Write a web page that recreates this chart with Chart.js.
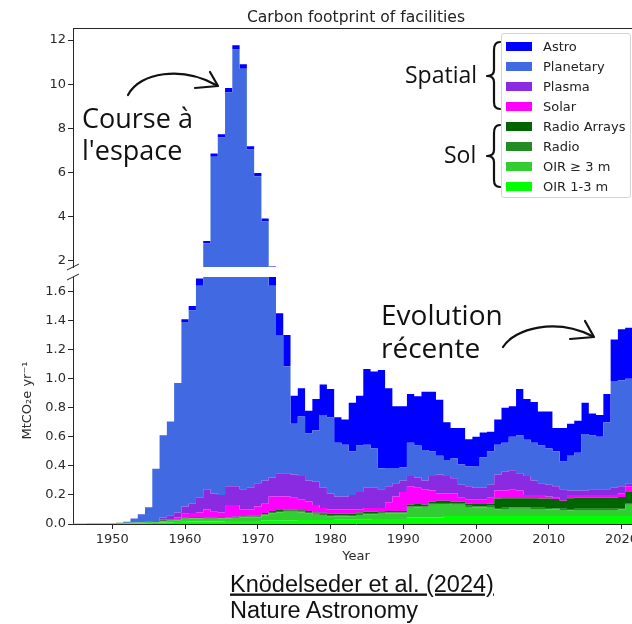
<!DOCTYPE html>
<html>
<head>
<meta charset="utf-8">
<script src="https://cdn.jsdelivr.net/npm/chart.js@4.4.1/dist/chart.umd.min.js"></script>
<style>
  html, body { margin: 0; padding: 0; background: #fff; }
  body { width: 632px; height: 624px; overflow: hidden; position: relative; }
  canvas { position: absolute; left: 0; }
  #top { top: 0; }
  #bottom { top: 272px; }
  #legend {
    position: absolute; left: 501px; top: 33px; width: 130px; height: 165px;
    box-sizing: border-box; border: 1px solid #d4d4d4; border-radius: 3px;
    background: rgba(255,255,255,0.85);
    font: 13px "DejaVu Sans", sans-serif; color: #222;
  }
  .item { position: absolute; left: 4px; height: 20px; display: flex; align-items: center; white-space: nowrap; }
  .patch { width: 26px; height: 9px; margin-right: 11px; }
  svg { position: absolute; left: 0; top: 0; }
</style>
</head>
<body>
<canvas id="top" width="660" height="272"></canvas>
<canvas id="bottom" width="660" height="300"></canvas>
<div id="legend"></div>

<svg width="632" height="624">
  <text x="356" y="21.5" text-anchor="middle" font-family="DejaVu Sans" font-size="15.6" fill="#222">Carbon footprint of facilities</text>
  <g font-family="Open Sans" fill="#111">
    <text x="82" y="128" font-size="27">Course à</text>
    <text x="82" y="160" font-size="27">l'espace</text>
    <text x="381" y="325" font-size="28">Evolution</text>
    <text x="381" y="358" font-size="28">récente</text>
    <text x="405" y="83" font-size="23">Spatial</text>
    <text x="444" y="163" font-size="23">Sol</text>
  </g>
  <g fill="none" stroke="#111" stroke-width="2.2" stroke-linecap="round" stroke-linejoin="round">
    <!-- fleche course a l'espace -->
    <path d="M128 95 C140 72, 182 66, 216 85"/>
    <path d="M210 72 L218 86 L195 88"/>
    <!-- fleche evolution recente -->
    <path d="M503 347 C515 328, 556 318, 592 336"/>
    <path d="M585 321 L594 337 L570 339"/>
    <!-- accolades -->
    <path d="M500 42 Q494 42 494 50 L494 70 Q494 76 487 76 Q494 76 494 82 L494 102 Q494 109 500 109"/>
    <path d="M500 125 Q494 125 494 133 L494 150 Q494 156 487 156 Q494 156 494 162 L494 180 Q494 187 500 187"/>
  </g>
  <g font-family="Liberation Sans" font-size="23.5" fill="#111">
    <text x="230" y="591.5" text-decoration="underline">Knödelseder et al. (2024)</text>
    <text x="230" y="618">Nature Astronomy</text>
  </g>
</svg>

<script>
// annees (une marche par annee)
var years = [
  1945, 1946, 1947, 1948, 1949, 1950, 1951, 1952, 1953, 1954,
  1955, 1956, 1957, 1958, 1959, 1960, 1961, 1962, 1963, 1964,
  1965, 1966, 1967, 1968, 1969, 1970, 1971, 1972, 1973, 1974,
  1975, 1976, 1977, 1978, 1979, 1980, 1981, 1982, 1983, 1984,
  1985, 1986, 1987, 1988, 1989, 1990, 1991, 1992, 1993, 1994,
  1995, 1996, 1997, 1998, 1999, 2000, 2001, 2002, 2003, 2004,
  2005, 2006, 2007, 2008, 2009, 2010, 2011, 2012, 2013, 2014,
  2015, 2016, 2017, 2018, 2019, 2020, 2021
];

// MtCO2e/an par categorie (empilees, de bas en haut)
var oir13 = [
  .002, .002, .002, .002, .002, .002, .002, .003, .004, .005,
  .006, .008, .010, .012, .014, .016, .018, .018, .018, .018,
  .018, .020, .020, .020, .020, .020, .025, .025, .025, .025,
  .025, .028, .028, .028, .028, .028, .030, .030, .030, .030,
  .030, .035, .035, .035, .035, .035, .045, .045, .045, .045,
  .045, .055, .055, .055, .055, .055, .055, .055, .055, .055,
  .055, .055, .055, .055, .055, .055, .055, .055, .055, .055,
  .055, .055, .055, .055, .055, .055, .055
];
var oir3 = [
  .002, .002, .003, .003, .004, .004, .005, .004, .005, .006,
  .008, .006, .008, .010, .012, .020, .019, .019, .018, .018,
  .019, .019, .021, .026, .027, .026, .034, .049, .056, .059,
  .059, .051, .046, .036, .034, .026, .022, .022, .024, .032,
  .037, .032, .035, .037, .037, .037, .067, .070, .067, .087,
  .092, .082, .077, .077, .062, .060, .060, .062, .047, .049,
  .050, .050, .050, .049, .048, .047, .044, .042, .040, .042,
  .042, .042, .042, .042, .042, .047, .077
];
var radio = [
  0, 0, 0, 0, 0, 0, .001, .001, .001, .001,
  .001, .002, .003, .004, .005, .005, .005, .005, .005, .005,
  .005, .005, .005, .005, .005, .008, .008, .008, .008, .008,
  .008, .008, .008, .008, .008, .008, .008, .008, .008, .008,
  .008, .008, .008, .008, .008, .008, .008, .008, .008, .008,
  .008, .008, .008, .008, .008, .008, .008, .008, .008, .008,
  .008, .008, .008, .008, .008, .008, .008, .008, .008, .008,
  .008, .008, .008, .008, .008, .008, .008
];
var radioArrays = [
  0, 0, 0, 0, 0, 0, 0, 0, 0, 0,
  0, .004, .004, .004, .004, .004, .004, .004, .004, .004,
  .004, .004, .004, .004, .004, .004, .008, .008, .008, .008,
  .008, .008, .008, .008, .008, .010, .010, .010, .010, .010,
  .010, .010, .010, .010, .010, .010, .015, .015, .015, .015,
  .015, .015, .015, .015, .015, .015, .015, .015, .065, .065,
  .065, .065, .065, .065, .065, .065, .065, .055, .075, .075,
  .075, .075, .075, .075, .075, .075, .080
];
var solar = [
  0, 0, 0, 0, 0, 0, 0, 0, 0, 0,
  0, 0, .005, .005, .010, .025, .029, .034, .055, .040,
  .034, .082, .080, .045, .044, .062, .065, .100, .093, .090,
  .080, .075, .065, .050, .032, .028, .030, .030, .028, .020,
  .025, .025, .022, .060, .100, .130, .125, .112, .105, .075,
  .050, .050, .055, .025, .030, .032, .032, .040, .055, .053,
  .057, .052, .022, .023, .024, .015, .008, .005, .022, .020,
  .020, .020, .020, .020, .020, .025, .040
];
var plasma = [
  0, 0, 0, 0, 0, 0, 0, 0, 0, 0,
  0, 0, .015, .025, .035, .050, .065, .100, .140, .125,
  .120, .130, .130, .140, .150, .160, .160, .130, .160, .160,
  .160, .160, .145, .160, .140, .110, .090, .090, .100, .120,
  .140, .140, .130, .110, .090, .080, .070, .070, .060, .100,
  .130, .120, .105, .090, .090, .080, .080, .090, .110, .130,
  .135, .120, .130, .100, .080, .080, .080, .075, .030, .030,
  .030, .040, .040, .040, .050, .050, .020
];
var planetary = [
  0, 0, 0, 0, 0, 0, 0, .008, .027, .055,
  .100, .360, .565, .645, .890, 1.27, 1.33, 1.46, 2.54, 6.49,
  7.38, 9.37, 11.31, 10.46, 6.78, 5.54, 3.48, 1.32, .950, .735,
  .350, .410, .325, .355, .500, .525, .370, .355, .300, .320,
  .295, .270, .144, .125, .105, .090, .230, .220, .210, .170,
  .130, .110, .135, .140, .135, .150, .210, .230, .205, .200,
  .230, .260, .250, .260, .260, .250, .240, .190, .240, .260,
  .390, .370, .360, .460, .735, .730, .720
];
var astro = [
  0, 0, 0, 0, 0, 0, 0, 0, 0, 0,
  0, 0, 0, 0, 0, .020, .030, .050, .100, .150,
  .150, .200, .200, .200, .150, .150, .120, .080, .150, .215,
  .193, .195, .155, .215, .210, .195, .175, .175, .335, .343,
  .522, .530, .676, .550, .425, .420, .334, .340, .400, .410,
  .385, .260, .210, .250, .189, .200, .170, .135, .175, .240,
  .210, .320, .280, .280, .235, .255, .160, .230, .220, .220,
  .215, .150, .150, .195, .285, .350, .350
];

var seriesNames = ['OIR 1-3 m', 'OIR \u2265 3 m', 'Radio', 'Radio Arrays', 'Solar', 'Plasma', 'Planetary', 'Astro'];
var seriesValues = [oir13, oir3, radio, radioArrays, solar, plasma, planetary, astro];
var seriesColors = ['#00ff00', '#32cd32', '#228b22', '#006400', '#ff00ff', '#8a2be2', '#4169e1', '#0000ff'];

var xTicks = [1950, 1960, 1970, 1980, 1990, 2000, 2010, 2020];
var yTopTicks = [2, 4, 6, 8, 10, 12];
var yLowTicks = [0, 0.2, 0.4, 0.6, 0.8, 1.0, 1.2, 1.4, 1.6];

var tickFont = { family: 'DejaVu Sans', size: 13 };
var axisColor = '#262626';

// chaque valeur couvre [annee-0.5, annee+0.5]
function toSteps(vals) {
    var pts = years.map(function(y, i) { return { x: y - 0.5, y: vals[i] }; });
    pts.push({ x: years[years.length - 1] + 0.5, y: vals[vals.length - 1] });
    return pts;
}

function makeDatasets() {
    return seriesValues.map(function(vals, i) {
        return {
            label: seriesNames[i],
            data: toSteps(vals),
            backgroundColor: seriesColors[i],
            borderColor: seriesColors[i],
            borderWidth: 0,
            pointRadius: 0,
            stepped: true,
            fill: i === 0 ? 'origin' : '-1'
        };
    });
}

// pas de marge auto due aux labels : la zone de tracé reste là où on la veut
function noPad(scale) {
    scale.paddingTop = 0;
    scale.paddingBottom = 0;
    scale.paddingLeft = 0;
    scale.paddingRight = 0;
}

// petites marques de coupure de l'axe + cadre du haut
function breakPlugin(edge) {
    return {
        id: 'breakMarks',
        afterDraw: function(chart) {
            var ctx = chart.ctx, a = chart.chartArea;
            var y = edge === 'bottom' ? a.bottom : a.top;
            ctx.save();
            ctx.strokeStyle = axisColor;
            ctx.lineWidth = 1;
            [a.left, a.right].forEach(function(x) {
                ctx.beginPath();
                ctx.moveTo(x - 6, y + 3);
                ctx.lineTo(x + 6, y - 3);
                ctx.stroke();
            });
            if (edge === 'bottom') {
                ctx.beginPath();
                ctx.moveTo(a.left, a.top + 0.5);
                ctx.lineTo(a.right, a.top + 0.5);
                ctx.stroke();
            }
            ctx.restore();
        }
    };
}

var xMin = 1944.6, xMax = 2022.4;

function yAxis(min, max, ticksArr, fmt, title) {
    return {
        stacked: true,
        min: min,
        max: max,
        afterBuildTicks: function(axis) { axis.ticks = ticksArr.map(function(v) { return { value: v }; }); },
        afterFit: function(scale) { scale.width = 73; noPad(scale); },
        ticks: { callback: fmt, font: tickFont, color: '#2a2a2a', padding: 2 },
        grid: { display: true, drawOnChartArea: false, tickLength: 5, color: axisColor },
        border: { display: true, color: axisColor, width: 1 },
        title: title
    };
}

new Chart(document.getElementById('top'), {
    type: 'line',
    data: { datasets: makeDatasets() },
    options: {
        responsive: false,
        animation: false,
        devicePixelRatio: 1,
        layout: { padding: { top: 28, bottom: 5, left: 0, right: 21 } },
        plugins: { legend: { display: false }, tooltip: { enabled: false } },
        scales: {
            x: { type: 'linear', min: xMin, max: xMax, display: false },
            y: yAxis(1.7, 12.55, yTopTicks, function(v) { return String(v); }, { display: false })
        }
    },
    plugins: [breakPlugin('bottom')]
});

new Chart(document.getElementById('bottom'), {
    type: 'line',
    data: { datasets: makeDatasets() },
    options: {
        responsive: false,
        animation: false,
        devicePixelRatio: 1,
        layout: { padding: { top: 5, bottom: 0, left: 0, right: 21 } },
        plugins: { legend: { display: false }, tooltip: { enabled: false } },
        scales: {
            x: {
                type: 'linear',
                min: xMin,
                max: xMax,
                afterBuildTicks: function(axis) { axis.ticks = xTicks.map(function(v) { return { value: v }; }); },
                afterFit: function(scale) { scale.height = 48; noPad(scale); },
                ticks: { callback: function(v) { return String(v); }, font: tickFont, color: '#2a2a2a', padding: 3, maxRotation: 0, autoSkip: false },
                grid: { display: true, drawOnChartArea: false, tickLength: 5, color: axisColor },
                border: { display: true, color: axisColor, width: 1 },
                title: { display: true, text: 'Year', font: tickFont, color: '#2a2a2a', padding: { top: 0, bottom: 8 } }
            },
            y: yAxis(0, 1.7, yLowTicks, function(v) { return v.toFixed(1); },
                { display: true, text: 'MtCO\u2082e yr\u207B\u00B9', font: tickFont, color: '#2a2a2a', padding: { top: 20, bottom: 0 } })
        }
    },
    plugins: [breakPlugin('top')]
});

// legende (ordre inverse de l'empilement)
var legend = document.getElementById('legend');
for (var k = seriesNames.length - 1, row = 0; k >= 0; k--, row++) {
    var item = document.createElement('div');
    item.className = 'item';
    item.style.top = (2 + row * 20) + 'px';
    var patch = document.createElement('span');
    patch.className = 'patch';
    patch.style.background = seriesColors[k];
    item.appendChild(patch);
    item.appendChild(document.createTextNode(seriesNames[k]));
    legend.appendChild(item);
}
</script>
</body>
</html>
